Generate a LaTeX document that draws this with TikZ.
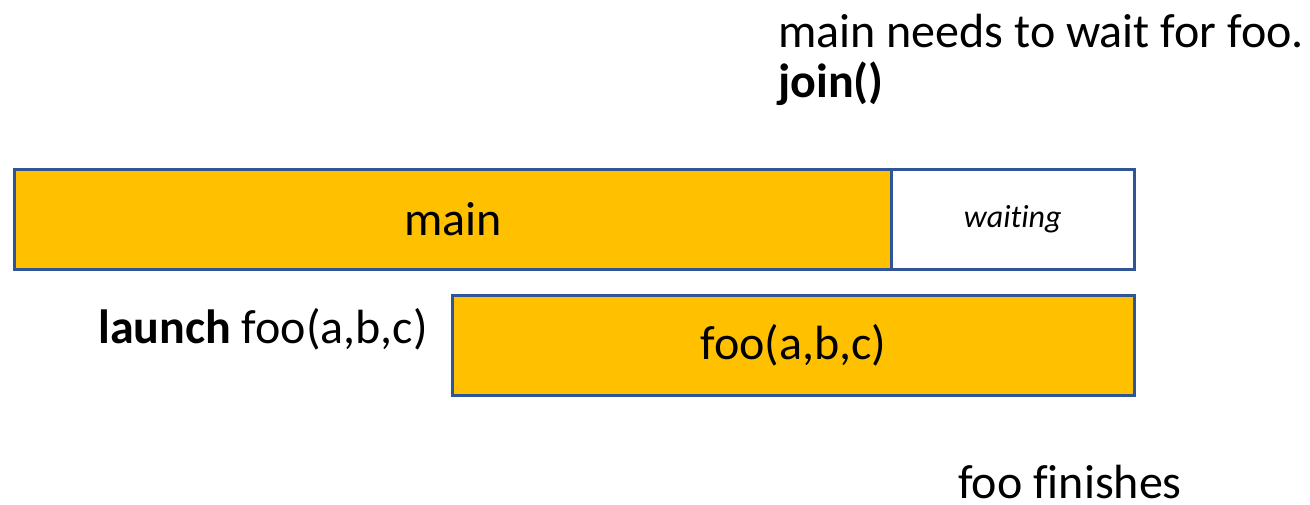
\documentclass[tikz,border=0pt]{standalone}
\usepackage{fontspec}
\setmainfont[Ligatures=NoCommon]{Carlito}
\definecolor{boxgold}{HTML}{FFC000}
\definecolor{boxblue}{HTML}{2F5597}
\begin{document}
\begin{tikzpicture}[x=1pt,y=-1pt,
  bar/.style={draw=boxblue,line width=2.6pt,inner sep=0pt,anchor=north west},
  lbl/.style={inner sep=0pt,font=\fontsize{48}{58}\selectfont}]
\useasboundingbox (0,0) rectangle (1310,505);
% thread bars
\node[bar,fill=boxgold,minimum width=877pt,minimum height=100pt] (main) at (13,168) {};
\node[bar,fill=white,minimum width=243pt,minimum height=100pt] (wait) at (890,168) {};
\node[bar,fill=boxgold,minimum width=682pt,minimum height=100pt] (foo) at (451,294) {};
% labels inside the bars
\node[lbl] at (main.center) {main};
\node[inner sep=0pt,font=\fontsize{32}{38}\selectfont\itshape] at (wait.center) {waiting};
\node[lbl] at (foo.center) {foo(a,b,c)};
% annotations
\node[lbl,anchor=base east] (launch) at (428,343) {\textbf{launch} foo(a,b,c)};
\node[lbl,anchor=base west] (note) at (778,48) {main needs to wait for foo.};
\node[lbl,anchor=base west,font=\fontsize{48}{58}\selectfont\bfseries] (join) at (778,98) {join()};
\node[lbl,anchor=base west] (fin) at (958,498) {foo finishes};
\end{tikzpicture}
\end{document}
